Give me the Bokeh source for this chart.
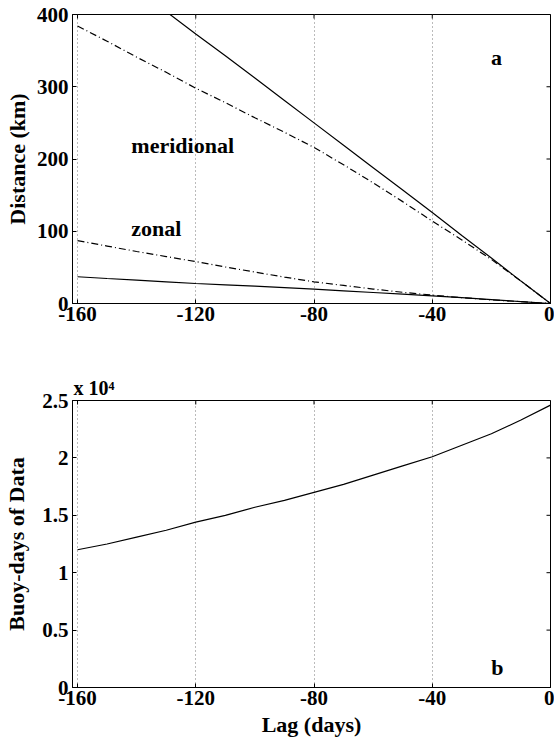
import math
from bokeh.plotting import figure
from bokeh.models import Range1d, FixedTicker, Label, ColumnDataSource, Title
from bokeh.layouts import column
from bokeh.embed import file_html
from bokeh.resources import INLINE

# ---------------- data ----------------
lag = [-160, -150, -140, -130, -120, -110, -100, -90, -80,
       -70, -60, -50, -40, -30, -20, -10, 0]
merid_solid = [497, 466, 435, 404, 373, 343, 312, 281, 250,
               219, 188, 157, 126, 94, 63, 31, 0]
merid_dash = [384, 363, 341, 320, 298, 278, 257, 237, 216,
              192, 167, 141, 114, 88, 61, 31, 0]
zonal_dash = [87, 79.5, 72, 65, 58, 50.5, 43.5, 36.5, 30,
              25, 20, 15.5, 11.6, 8, 5, 2.5, 0]
zonal_solid = [37, 34.6, 32.3, 30, 27.7, 25.8, 24, 22, 20,
               17.6, 15.2, 12.9, 10.6, 8, 5.3, 2.6, 0]
buoy_days = [12000, 12500, 13100, 13700, 14400, 15000, 15700, 16300, 17000,
             17700, 18500, 19300, 20100, 21100, 22100, 23300, 24600]

x_ticks = [-160, -120, -80, -40, 0]
x_tick_labels = ["-160", "-120", "-80", "-40", "0"]
top_y_ticks = [0, 100, 200, 300, 400]
top_y_labels = ["0", "100", "200", "300", "400"]
bot_y_ticks = [0, 5000, 10000, 15000, 20000, 25000]
bot_y_labels = ["0", "0.5", "1", "1.5", "2", "2.5"]

FONT = "Liberation Serif"
TICK_SIZE = "21px"
LABEL_SIZE = "22px"
X_START, X_END = -161.7, 0


def style_axes(p, yticks, ylabels, y_end):
    p.xaxis.ticker = FixedTicker(ticks=x_ticks)
    p.xaxis.major_label_overrides = {t: l for t, l in zip(x_ticks, x_tick_labels)}
    p.yaxis.ticker = FixedTicker(ticks=yticks)
    p.yaxis.major_label_overrides = {t: l for t, l in zip(yticks, ylabels)}
    for ax in (p.xaxis[0], p.yaxis[0]):
        ax.major_label_text_font = FONT
        ax.major_label_text_font_style = "bold"
        ax.major_label_text_font_size = TICK_SIZE
        ax.major_label_text_color = "black"
        ax.major_tick_in = 4
        ax.major_tick_out = 0
        ax.minor_tick_line_color = None
        ax.axis_line_color = "black"
        ax.major_tick_line_color = "black"
        ax.major_label_standoff = 3
        ax.axis_label_text_font = FONT
        ax.axis_label_text_font_style = "bold"
        ax.axis_label_text_font_size = LABEL_SIZE
        ax.axis_label_text_color = "black"
    p.yaxis.major_label_standoff = 4
    p.xgrid.ticker = FixedTicker(ticks=x_ticks[:-1])
    p.xgrid.grid_line_color = "#777777"
    p.xgrid.grid_line_dash = "1 3"
    p.xgrid.grid_line_width = 1
    p.ygrid.grid_line_color = None
    p.outline_line_color = "black"
    p.outline_line_alpha = 1.0
    p.background_fill_color = "white"
    p.border_fill_color = "white"
    # inward tick marks on the top and right edges of the box
    p.scatter(x=x_ticks, y=[y_end] * len(x_ticks), marker="dash", size=8,
              angle=math.pi / 2, line_color="black", line_width=1)
    p.scatter(x=[X_END] * len(yticks), y=yticks, marker="dash", size=8,
              line_color="black", line_width=1)


def txt(p, x, y, s, size=LABEL_SIZE, align="left"):
    p.add_layout(Label(x=x, y=y, text=s, text_font=FONT, text_font_style="bold",
                       text_font_size=size, text_align=align, text_baseline="alphabetic",
                       text_color="black"))


# ---------------- panel a ----------------
p1 = figure(width=554, height=340, output_backend="svg", toolbar_location=None,
            x_range=Range1d(X_START, X_END), y_range=Range1d(0, 400),
            min_border_left=72, min_border_right=4, min_border_top=14, min_border_bottom=37)
style_axes(p1, top_y_ticks, top_y_labels, 400)

src1 = ColumnDataSource(dict(lag=lag, ms=merid_solid, md=merid_dash, zd=zonal_dash, zs=zonal_solid))
p1.line("lag", "ms", source=src1, line_color="black", line_width=1.2)
p1.line("lag", "md", source=src1, line_color="black", line_width=1.2, line_dash="7 3 1 3")
p1.line("lag", "zd", source=src1, line_color="black", line_width=1.2, line_dash="7 3 1 3")
p1.line("lag", "zs", source=src1, line_color="black", line_width=1.2)

txt(p1, -141.8, 218, "meridional")
txt(p1, -141.8, 103.4, "zonal")
txt(p1, -18.3, 340, "a", align="center")
p1.yaxis[0].axis_label = "Distance (km)"
p1.yaxis[0].axis_label_standoff = 4

# ---------------- panel b ----------------
p2 = figure(width=554, height=405, output_backend="svg", toolbar_location=None,
            x_range=Range1d(X_START, X_END), y_range=Range1d(0, 25000),
            min_border_left=72, min_border_right=4, min_border_top=60, min_border_bottom=58)
p2.title = Title(text="x 10\u2074", align="left", text_font=FONT, text_font_style="bold",
                 text_font_size="20px", standoff=3, offset=1, text_color="black")
style_axes(p2, bot_y_ticks, bot_y_labels, 25000)

src2 = ColumnDataSource(dict(lag=lag, bd=buoy_days))
p2.line("lag", "bd", source=src2, line_color="black", line_width=1.2)

txt(p2, -18.0, 1740, "b", align="center")
p2.yaxis[0].axis_label = "Buoy-days of Data"
p2.yaxis[0].axis_label_standoff = 10
p2.xaxis[0].axis_label = "Lag (days)"
p2.xaxis[0].axis_label_standoff = 4

layout = column(p1, p2, spacing=0)
open("out.html", "w").write(file_html(layout, INLINE))
